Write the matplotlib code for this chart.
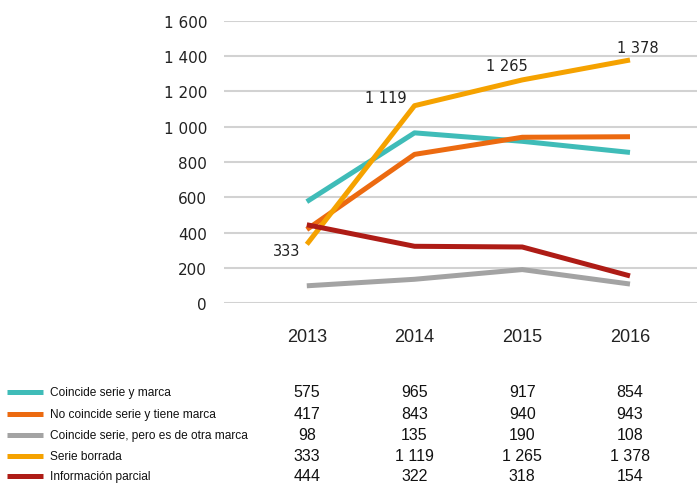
import matplotlib
matplotlib.use('Agg')
import matplotlib.pyplot as plt
import matplotlib.transforms as mtransforms
from matplotlib.lines import Line2D

# data
years = ['2013', '2014', '2015', '2016']
series_names = [
    'Coincide serie y marca',
    'No coincide serie y tiene marca',
    'Coincide serie, pero es de otra marca',
    'Serie borrada',
    'Información parcial',
]
coincide = [575, 965, 917, 854]
no_coincide = [417, 843, 940, 943]
otra_marca = [98, 135, 190, 108]
borrada = [333, 1119, 1265, 1378]
parcial = [444, 322, 318, 154]
series_values = [coincide, no_coincide, otra_marca, borrada, parcial]
colors = ['#3fbcb8', '#ec6a10', '#a3a3a3', '#f5a200', '#ae1c16']
y_ticks = [0, 200, 400, 600, 800, 1000, 1200, 1400, 1600]


def fmt(v):
    # thousands separated by a space
    return f"{v:,}".replace(',', ' ')


plt.rcParams['font.family'] = ['Liberation Sans', 'DejaVu Sans']

fig = plt.figure(figsize=(6.97, 4.85), dpi=100)
ax = fig.add_axes([0.321, 0.373, 0.679, 0.582])

x = list(range(len(years)))
order = [2, 0, 1, 4, 3]
for i in order:
    ax.plot(x, series_values[i], color=colors[i], linewidth=3.6,
            solid_capstyle='butt', zorder=3 + i)

# labels on the "Serie borrada" line
offsets = [(-0.19, -35), (-0.27, 45), (-0.14, 80), (0.07, 70)]
for xi, v, (dx, dy) in zip(x, borrada, offsets):
    ax.text(xi + dx, v + dy, fmt(v), ha='center', va='center', fontsize=10.5,
            family=['DejaVu Sans'], color='#222222', zorder=10)

ax.set_ylim(0, 1600)
ax.set_xlim(-0.771, 3.622)
ax.set_yticks(y_ticks)
ax.set_yticklabels([fmt(v) for v in y_ticks], fontsize=11, family=['DejaVu Sans'])
ax.tick_params(axis='y', length=0, pad=12, labelcolor='#222222')
ax.set_xticks([])
ax.grid(axis='y', color='#d2d2d2', linewidth=1.5)
ax.set_axisbelow(True)
for s in ax.spines.values():
    s.set_visible(False)

# table under the chart, columns aligned with chart x positions
trans = mtransforms.blended_transform_factory(ax.transData, fig.transFigure)
for xi, yr in zip(x, years):
    fig.text(xi, 1 - 338 / 485, yr, transform=trans, ha='center', va='center',
             fontsize=13, color='#222222')

row_y = [393, 415, 436, 457, 477]
for name, vals, c, ry in zip(series_names, series_values, colors, row_y):
    yf = 1 - ry / 485
    fig.add_artist(Line2D([0.01, 0.061], [yf, yf], transform=fig.transFigure,
                          color=c, linewidth=3.6, solid_capstyle='butt'))
    fig.text(0.072, yf, name, ha='left', va='center', fontsize=8.6,
             color='#111111')
    for xi, v in zip(x, vals):
        fig.text(xi, yf, fmt(v), transform=trans, ha='center', va='center',
                 fontsize=11.5, color='#111111')

fig.savefig('out.png', dpi=100, facecolor='white')
